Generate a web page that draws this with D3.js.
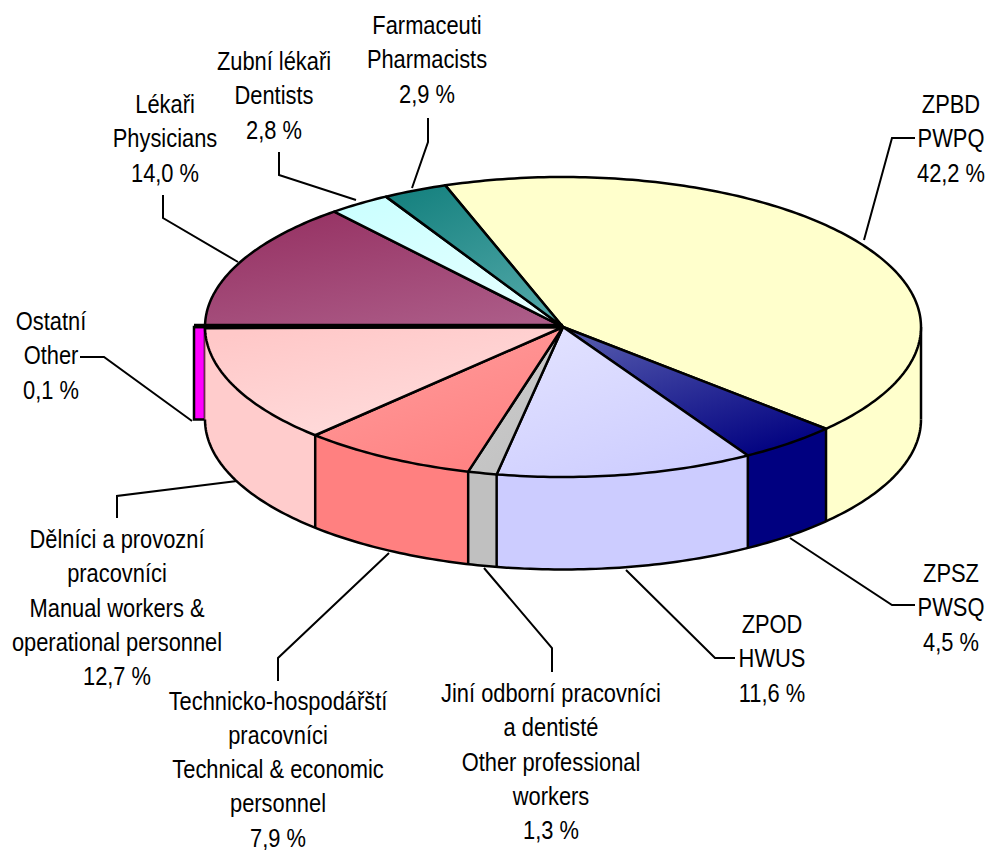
<!DOCTYPE html>
<html><head><meta charset="utf-8">
<style>html,body{margin:0;background:#fff}svg{display:block}text{font-family:"Liberation Sans",Arial,sans-serif;font-size:25px;fill:#000}</style>
<script src="https://cdn.jsdelivr.net/npm/d3@7"></script></head><body>
<svg id="c" width="989" height="850"></svg>
<script>
const categories=["ZPBD","ZPSZ","ZPOD","Jiní","Technicko","Dělníci","Ostatní","Lékaři","Zubní","Farmaceuti"];
const shares=[42.2,4.5,11.6,1.3,7.9,12.7,0.1,14.0,2.8,2.9];
const labelLines=[
 ["ZPBD","PWPQ","42,2 %"],
 ["ZPSZ","PWSQ","4,5 %"],
 ["ZPOD","HWUS","11,6 %"],
 ["Jiní odborní pracovníci","a dentisté","Other professional","workers","1,3 %"],
 ["Technicko-hospodářští","pracovníci","Technical & economic","personnel","7,9 %"],
 ["Dělníci a provozní","pracovníci","Manual workers &","operational personnel","12,7 %"],
 ["Ostatní","Other","0,1 %"],
 ["Lékaři","Physicians","14,0 %"],
 ["Zubní lékaři","Dentists","2,8 %"],
 ["Farmaceuti","Pharmacists","2,9 %"]];
const sideColors=["#FFFFCC","#000080","#CCCCFF","#C0C0C0","#FF8080","#FFCCCC","#FF00FF","#993366","#CCFFFF","#1B8380"];
const topStart=["#FFFFCC","#5358AC","#E2E2FF","#CDCDCD","#FF9C9C","#FFC8C8","#FF00FF","#963263","#CCFFFF","#178280"];
const topEnd=["#FFFFCC","#000080","#CCCCFF","#C0C0C0","#FF8080","#FFDEDE","#FF00FF","#AC5C88","#E6FFFF","#52A8A8"];
const labelAnchor=[[951,113],[951,582],[772,633],[551,702],[278,709.5],[117,548],[51,330],[165,113],[274,70],[427,34]];
const leaders=[
 [[864,240],[892,138],[915,138]],
 [[790,538],[892,605],[915,605]],
 [[626,570],[715,658],[735,658]],
 [[484,568],[552,648],[552,672]],
 [[389,553],[278,658],[278,681]],
 [[237,481],[117,496],[117,518]],
 [[192,421],[104,357],[80,357]],
 [[238,262],[163,218],[163,195]],
 [[356,200],[279,175],[279,152]],
 [[412,188],[428,142],[428,118]]];
const lineStep=34.3, textSqueeze=0.875;
const cx=563,cy=327,rx=358,ry=150,depth=92.5;
const startDeg=-19.2;
const svg=d3.select("#c");
const x=d3.scaleLinear().domain([-1,1]).range([cx-rx,cx+rx]);
const y=d3.scaleLinear().domain([-1,1]).range([cy-ry,cy+ry]);
const s0=startDeg*Math.PI/180;
const arcs=d3.pie().value(d=>d).sort(null).startAngle(s0).endAngle(s0+2*Math.PI)(shares);
const px=t=>x(Math.sin(t)), py=t=>y(-Math.cos(t));
const samples=(a,b)=>{const n=Math.max(2,Math.ceil(Math.abs(b-a)*60));return d3.range(n+1).map(i=>a+(b-a)*i/n)};
const line=d3.line();
const rim=(a,b,dy=0)=>samples(a,b).map(t=>[px(t),py(t)+dy]);
const defs=svg.append("defs");
arcs.forEach((d,i)=>{
  const g=defs.append("linearGradient").attr("id","g"+i).attr("x1",.2).attr("y1",0).attr("x2",.8).attr("y2",1);
  g.append("stop").attr("offset",0).attr("stop-color",topStart[i]);
  g.append("stop").attr("offset",1).attr("stop-color",topEnd[i]);
});
const PI=Math.PI, front0=PI/2, front1=3*PI/2;
const barW=11;
svg.append("rect").attr("x",x(-1)-barW).attr("y",y(0)).attr("width",barW).attr("height",depth)
  .attr("fill",sideColors[6]).attr("stroke","#000").attr("stroke-width",2.5);
arcs.forEach((d,i)=>{
  if(i===6)return;
  const a=Math.max(d.startAngle,front0),b=Math.min(d.endAngle,front1);
  if(b<=a)return;
  const pts=rim(a,b).concat(rim(a,b,depth).reverse());
  svg.append("path").attr("d",line(pts)+"Z").attr("fill",sideColors[i]).attr("stroke",sideColors[i]).attr("stroke-width",.5);
});
svg.append("path").attr("d",line(rim(front0,front1,depth))).attr("fill","none").attr("stroke","#000").attr("stroke-width",2.5);
svg.append("path").attr("d",line([[px(front0),py(front0)],[px(front0),py(front0)+depth]])).attr("fill","none").attr("stroke","#000").attr("stroke-width",2.5);
arcs.forEach((d,i)=>{
  const t=d.endAngle;
  if(t>front0&&t<front1-.01){
    svg.append("path").attr("d",line([[px(t),py(t)],[px(t),py(t)+depth]])).attr("fill","none").attr("stroke","#000").attr("stroke-width",2.5);
  }
});
arcs.forEach((d,i)=>{
  if(i===6)return;
  const pts=[[x(0),y(0)]].concat(rim(d.startAngle,d.endAngle));
  svg.append("path").attr("d",line(pts)+"Z").attr("fill",`url(#g${i})`).attr("stroke","#000").attr("stroke-width",2.5).attr("stroke-linejoin","round");
});
svg.append("path").attr("d",line([[x(0),y(0)-1],[x(-1)-barW,y(0)-1]])).attr("stroke","#000").attr("stroke-width",4.5).attr("fill","none");
leaders.forEach(l=>svg.append("path").attr("d",line(l)).attr("fill","none").attr("stroke","#000").attr("stroke-width",2));
labelLines.forEach((ls,i)=>{
  const g=svg.append("g").attr("transform",`translate(${labelAnchor[i][0]},${labelAnchor[i][1]}) scale(${textSqueeze},1)`);
  ls.forEach((t,k)=>g.append("text").attr("text-anchor","middle").attr("y",k*lineStep).text(t));
});
</script></body></html>
